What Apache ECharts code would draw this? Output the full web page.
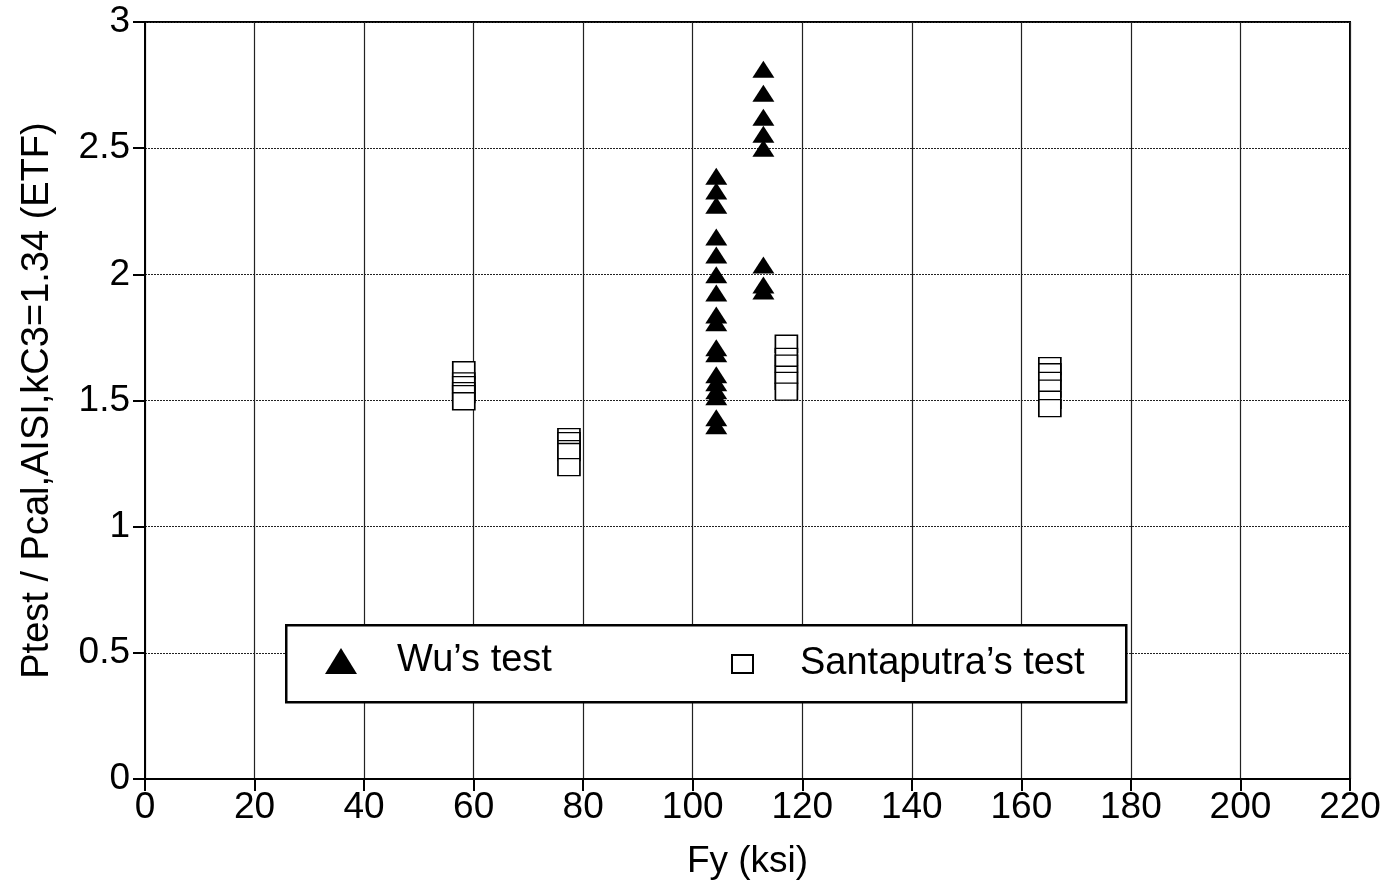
<!DOCTYPE html>
<html>
<head>
<meta charset="utf-8">
<script src="https://cdn.jsdelivr.net/npm/echarts@6/dist/echarts.min.js"></script>
<style>html,body{margin:0;padding:0;background:#fff;}#c{width:1387px;height:888px;}</style>
</head>
<body>
<div id="c"></div>
<script>
// Wu's test (Fy ksi, ratio)
const wuX1 = 104.3;
const wuY1 = [2.389, 2.330, 2.274, 2.148, 2.077, 1.998, 1.926, 1.839, 1.808, 1.709, 1.685, 1.602, 1.570, 1.539, 1.515, 1.432, 1.400];
const wuX2 = 112.9;
const wuY2 = [2.813, 2.718, 2.623, 2.555, 2.500, 2.037, 1.958, 1.934];
// Santaputra's test
const saX = [58.2, 77.4, 117.1, 165.2];
const saY = [
  [1.620, 1.576, 1.561, 1.537, 1.525, 1.497],
  [1.355, 1.339, 1.307, 1.296, 1.236],
  [1.725, 1.673, 1.646, 1.602, 1.578, 1.535],
  [1.636, 1.612, 1.578, 1.547, 1.503, 1.470]
];
const seriesNames = ['Wu\u2019s test', 'Santaputra\u2019s test'];
const xTitle = 'Fy (ksi)';
const yTitle = 'Ptest / Pcal,AISI,kC3=1.34 (ETF)';

const wuData = wuY1.map(v => [wuX1, v]).concat(wuY2.map(v => [wuX2, v]));
const saData = [];
saX.forEach((x, i) => saY[i].forEach(v => saData.push([x, v])));

const FONT = '"Liberation Sans", Arial, Helvetica, sans-serif';
const chart = echarts.init(document.getElementById('c'));
chart.setOption({
  animation: false,
  backgroundColor: '#fff',
  textStyle: { fontFamily: FONT, color: '#000' },
  grid: { left: 145, right: 37, top: 22, bottom: 109, show: true, borderColor: '#000', borderWidth: 2, backgroundColor: 'transparent' },
  xAxis: {
    type: 'value', min: 0, max: 220, interval: 20,
    name: xTitle, nameLocation: 'middle', nameGap: 64,
    nameTextStyle: { fontSize: 37, color: '#000', fontFamily: FONT },
    axisLine: { lineStyle: { color: '#000', width: 2 } },
    axisTick: { show: true, length: 12, lineStyle: { color: '#000', width: 2 } },
    axisLabel: { fontSize: 37, color: '#000', margin: 10, fontFamily: FONT },
    splitLine: { show: true, lineStyle: { color: '#222', width: 1.2 } }
  },
  yAxis: {
    type: 'value', min: 0, max: 3, interval: 0.5,
    name: yTitle, nameLocation: 'middle', nameGap: 88,
    nameTextStyle: { fontSize: 38, color: '#000', fontFamily: FONT },
    axisLine: { lineStyle: { color: '#000', width: 2 } },
    axisTick: { show: true, length: 12, lineStyle: { color: '#000', width: 2 } },
    axisLabel: { fontSize: 37, color: '#000', margin: 15, fontFamily: FONT },
    splitLine: { show: true, lineStyle: { color: '#222', width: 1.2, type: [2, 1] } }
  },
  graphic: [{
    type: 'rect', left: 285, top: 624, z: 10,
    shape: { width: 840, height: 77 },
    style: { fill: '#fff', stroke: '#000', lineWidth: 2.5 }
  }],
  legend: [{
    data: [seriesNames[0]], left: 325, top: 642, z: 20, padding: 0,
    itemWidth: 32, itemHeight: 26, icon: 'triangle',
    textStyle: { fontSize: 38, color: '#000', fontFamily: FONT, padding: [0, 0, 0, 35] }
  }, {
    data: [seriesNames[1]], left: 731, top: 645, z: 20, padding: 0,
    itemWidth: 21, itemHeight: 18, icon: 'rect',
    textStyle: { fontSize: 38, color: '#000', fontFamily: FONT, padding: [0, 0, 0, 42] }
  }],
  series: [{
    name: seriesNames[0], type: 'scatter', data: wuData,
    symbol: 'triangle', symbolSize: [22, 17],
    itemStyle: { color: '#000', opacity: 1 }
  }, {
    name: seriesNames[1], type: 'scatter', data: saData,
    symbol: 'rect', symbolSize: [22, 17],
    itemStyle: { color: '#fff', borderColor: '#000', borderWidth: 1.5, opacity: 1 }
  }]
});
</script>
</body>
</html>
